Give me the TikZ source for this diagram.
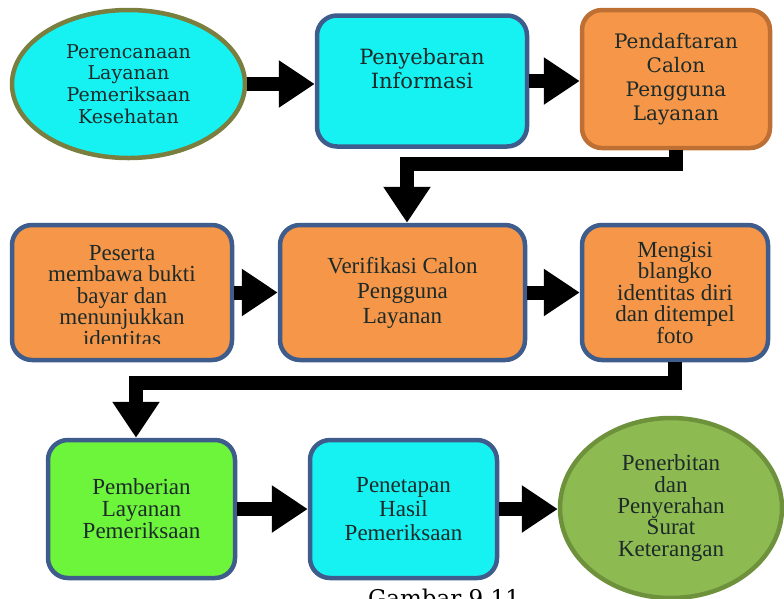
\documentclass[tikz,border=0pt]{standalone}
\usepackage{fontspec}
\setmainfont{Liberation Serif}
\newfontfamily\dvs{DejaVu Serif}
\usetikzlibrary{shapes.geometric,arrows.meta}
\definecolor{cyanf}{RGB}{22,242,242}
\definecolor{bordblue}{RGB}{62,92,140}
\definecolor{orangef}{RGB}{245,150,72}
\definecolor{bordorange}{RGB}{190,112,52}
\definecolor{olivebord}{RGB}{122,126,62}
\definecolor{greenbox}{RGB}{108,245,58}
\definecolor{greenell}{RGB}{142,186,82}
\definecolor{greenbord}{RGB}{110,146,60}
\definecolor{txt}{RGB}{28,42,42}
\tikzset{
  box/.style={rectangle, rounded corners=20pt, line width=4.5pt, draw=bordblue, inner sep=0pt, text=txt, align=center},
  ell/.style={ellipse, line width=4.5pt, inner sep=0pt, text=txt, align=center},
  rowone/.style={font=\dvs\fontsize{20}{24}\selectfont},
  rowtwo/.style={font=\fontsize{23}{21.5}\selectfont},
  rowthree/.style={font=\fontsize{23}{22}\selectfont},
  fat/.style={line width=14pt, black, -{Triangle[length=36pt,width=45pt]}}
}
\begin{document}
\begin{tikzpicture}[x=1pt,y=-1pt]
\useasboundingbox (0,0) rectangle (784,598);
% row 1
\node[ell, fill=cyanf, draw=olivebord, minimum width=233pt, minimum height=148pt,
      font=\dvs\fontsize{19}{21.7}\selectfont] (e1) at (128.5,84)
  {Perencanaan\\Layanan\\Pemeriksaan\\Kesehatan};
\node[box, fill=cyanf, minimum width=210pt, minimum height=131pt,
      font=\dvs\fontsize{21}{24}\selectfont] (b2) at (422,81)
  {Penyebaran\\Informasi\\\mbox{}};
\node[box, rowone, fill=orangef, draw=bordorange, minimum width=188pt, minimum height=138pt] (b3) at (676,79)
  {Pendaftaran\\Calon\\Pengguna\\Layanan};
% row 2
\node[box, fill=orangef, minimum width=220pt, minimum height=135pt] (ps) at (122,292.5) {};
\begin{scope}
  \clip (12,225) rectangle (232,343);
  \node[rowtwo, text=txt, align=center, inner sep=0pt] (pst) at (122,296)
    {Peserta\\membawa bukti\\bayar dan\\menunjukkan\\identitas};
\end{scope}
\node[box, fill=orangef, minimum width=245pt, minimum height=135pt,
      font=\fontsize{23}{25}\selectfont] (vb) at (402.5,292.5)
  {Verifikasi Calon\\Pengguna\\Layanan};
\node[box, rowtwo, fill=orangef, minimum width=186pt, minimum height=135pt] (m) at (675,292.5)
  {Mengisi\\blangko\\identitas diri\\dan ditempel\\foto};
% row 3
\node[box, rowthree, fill=greenbox, minimum width=187pt, minimum height=138pt] (pe) at (141.5,509)
  {Pemberian\\Layanan\\Pemeriksaan};
\node[box, fill=cyanf, minimum width=187pt, minimum height=138pt,
      font=\fontsize{23}{24}\selectfont] (pt) at (403.5,509)
  {Penetapan\\Hasil\\Pemeriksaan};
\node[ell, fill=greenell, draw=greenbord, minimum width=222pt, minimum height=180pt,
      font=\fontsize{23}{21.3}\selectfont] (pn) at (671,508)
  {Penerbitan\\dan\\Penyerahan\\Surat\\Keterangan};
% caption (cut by the page edge, as in the reference)
\node[font=\dvs\fontsize{23}{26}\selectfont, text=black, anchor=base, inner sep=0pt] (cap) at (444,606) {Gambar 9.11};
% connectors
\draw[fat] (e1.east) -- (e1.east -| b2.west);
\draw[fat] (b2.east) -- (b2.east -| b3.west);
\coordinate (k1) at (407,164);
\draw[fat] (b3.south) |- (k1) -- (k1 |- vb.north);
\draw[fat] (ps.east) -- (vb.west);
\draw[fat] (vb.east) -- (m.west);
\coordinate (k2) at (136,383);
\draw[fat] (m.south) |- (k2) -- (k2 |- pe.north);
\draw[fat] (pe.east) -- (pt.west);
\draw[fat] (pt.east) -- (pt.east -| pn.west);
\end{tikzpicture}
\end{document}
